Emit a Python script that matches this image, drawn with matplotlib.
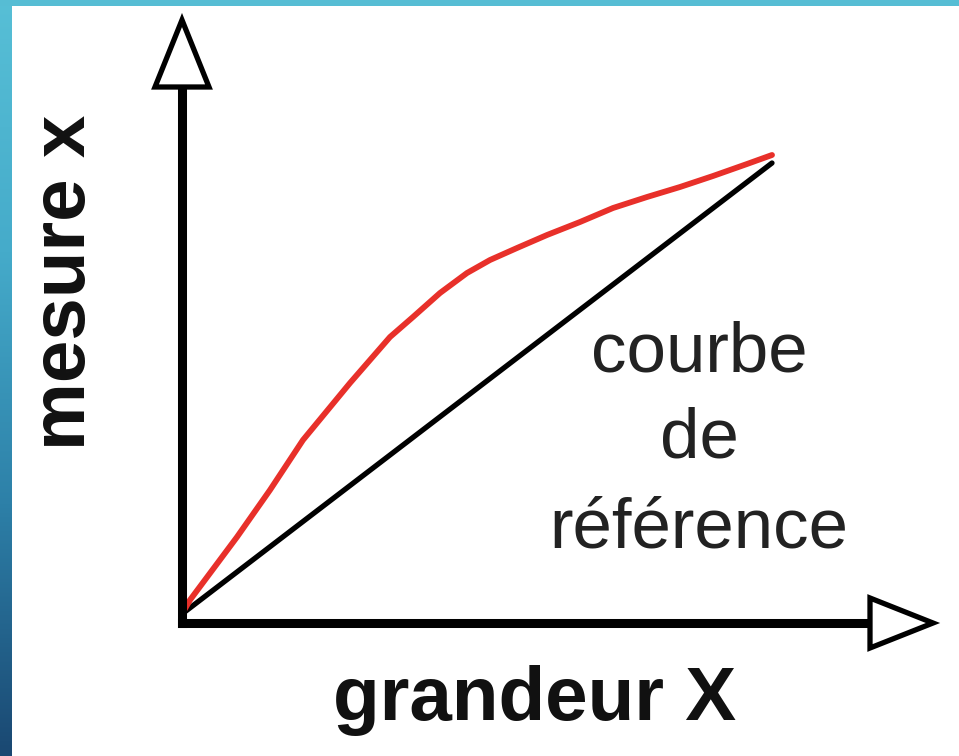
import numpy as np
import matplotlib.pyplot as plt
from matplotlib.patches import Polygon
from matplotlib.colors import LinearSegmentedColormap

# schematic: measured value vs true value (grandeur)
# units are arbitrary, origin of the graph at (0, 0)
grandeur = [0, 8, 55, 88, 121, 168, 208, 231, 258, 285, 308, 335, 365, 398,
            431, 465, 498, 531, 565, 590]
mesure = [6, 20, 83, 130, 180, 237, 283, 303, 327, 347, 360, 372, 385, 398,
          412, 423, 433, 444, 456, 465]
ref_x = [0, 590]
ref_y = [6, 457]

x_axis_end = 688
y_axis_end = 533

fig = plt.figure(figsize=(9.59, 7.56), dpi=100)
fig.patch.set_facecolor('white')
ax = fig.add_axes([0, 0, 1, 1])
ax.set_xlim(-182, 777)
ax.set_ylim(-136, 620)
ax.axis('off')

# axes of the sketch
ax.plot([0, 0], [-3, y_axis_end], color='black', lw=6.5, solid_capstyle='projecting', zorder=3)
ax.plot([0, x_axis_end], [-3, -3], color='black', lw=6.5, solid_capstyle='projecting', zorder=3)

# open triangle arrow heads
ax.add_patch(Polygon([[-27, y_axis_end], [27, y_axis_end], [0, 600]], closed=True,
                     facecolor='white', edgecolor='black', lw=3.8, joinstyle='miter', zorder=4))
ax.add_patch(Polygon([[x_axis_end, -28], [x_axis_end, 22], [751, -3]], closed=True,
                     facecolor='white', edgecolor='black', lw=3.8, joinstyle='miter', zorder=4))

# reference line and measured curve
ax.plot(ref_x, ref_y, color='black', lw=3.8, solid_capstyle='round', zorder=2)
ax.plot(grandeur, mesure, color='#e8302a', lw=4.2, solid_capstyle='round',
        solid_joinstyle='round', zorder=2)

# labels
ax.text(-97, 338, 'mesure x', rotation=90, rotation_mode='anchor', ha='center', va='baseline',
        fontsize=55, fontweight='bold', family=['Liberation Sans', 'DejaVu Sans'], color='#111111')
ax.text(353, -100, 'grandeur X', ha='center', va='baseline',
        fontsize=55, fontweight='bold', family=['Liberation Sans', 'DejaVu Sans'], color='#111111')
for txt, yb in [('courbe', 248), ('de', 162), ('référence', 72)]:
    ax.text(517, yb, txt, ha='center', va='baseline', fontsize=51,
            family=['Liberation Sans', 'DejaVu Sans'], color='#222222')

# slide frame: blue gradient bars on the left and top
left = fig.add_axes([0, 0, 12 / 959, 1])
grad = np.linspace(0, 1, 256).reshape(-1, 1)
cmap = LinearSegmentedColormap.from_list('frame', ['#57bfd6', '#45abca', '#2d80a8', '#1a4872'])
left.imshow(grad, aspect='auto', cmap=cmap, extent=[0, 1, 1, 0])
left.axis('off')
top = fig.add_axes([0, 1 - 6 / 756, 1, 6 / 756])
top.set_facecolor('#56bdd4')
top.set_xticks([])
top.set_yticks([])
for s in top.spines.values():
    s.set_visible(False)

fig.savefig('out.png', dpi=100)
